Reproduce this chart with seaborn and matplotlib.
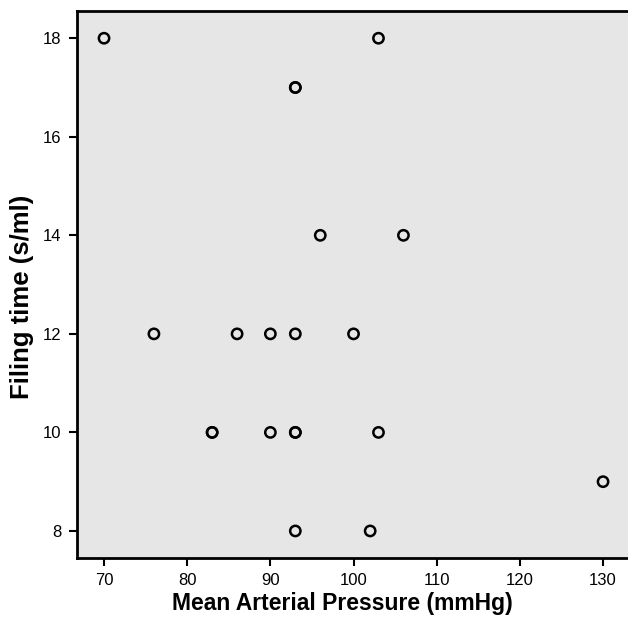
import matplotlib
matplotlib.use("Agg")
import matplotlib.pyplot as plt
import seaborn as sns
import pandas as pd

# =========================
# DADES
# =========================
pressio = [70, 103, 93, 93, 96, 106, 76, 86, 90, 93, 100,
           83, 83, 90, 93, 93, 103, 130, 93, 102]
temps = [18, 18, 17, 17, 14, 14, 12, 12, 12, 12, 12,
         10, 10, 10, 10, 10, 10, 9, 8, 8]

df = pd.DataFrame({'map': pressio, 'filing': temps})

# =========================
# ESTIL
# =========================
sns.set_style("white")
plt.rcParams['font.family'] = ['Liberation Sans', 'DejaVu Sans']

fig = plt.figure(figsize=(6.28, 6.18), dpi=100)
ax = fig.add_axes([0.1226, 0.097, 0.8774, 0.885])
ax.set_facecolor('#e6e6e6')

sns.scatterplot(
    x='map', y='filing', data=df, ax=ax,
    marker='o', s=55, facecolor='none',
    edgecolor='black', linewidth=1.8
)

ax.set_xlim(66.75, 133.0)
ax.set_ylim(7.45, 18.55)
ax.set_xticks(range(70, 131, 10))
ax.set_yticks(range(8, 19, 2))

ax.set_xlabel("Mean Arterial Pressure (mmHg)", fontsize=16.5, fontweight='bold',
              color='black')
ax.set_ylabel("Filing time (s/ml)", fontsize=18.5, fontweight='bold',
              color='black')
ax.xaxis.set_label_coords(0.481, -0.062)
ax.yaxis.set_label_coords(-0.078, 0.477)

ax.tick_params(axis='both', direction='out', length=6, width=1.5, pad=5,
               colors='black', labelsize=12, left=True, bottom=True)
for lado in ['left', 'bottom', 'top']:
    ax.spines[lado].set_color('black')
    ax.spines[lado].set_linewidth(2)
ax.spines['right'].set_visible(False)

fig.savefig("out.png", dpi=100)
